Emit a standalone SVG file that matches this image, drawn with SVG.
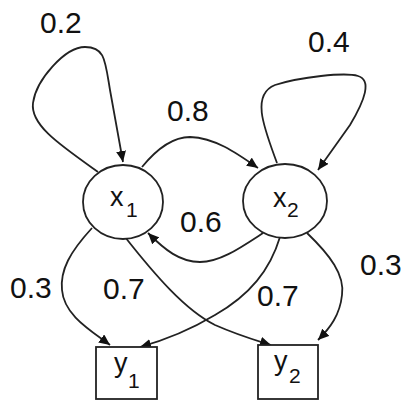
<svg xmlns="http://www.w3.org/2000/svg" width="409" height="403" viewBox="0 0 409 403">
<defs>
<marker id="ah" markerUnits="userSpaceOnUse" markerWidth="12" markerHeight="10" refX="11" refY="5" orient="auto">
<path d="M0,0 L11,5 L0,10 Z" fill="#111"/>
</marker>
<style>
.n{fill:#fff;stroke:#222;stroke-width:1.8}
.e{fill:none;stroke:#222;stroke-width:1.8;marker-end:url(#ah)}
.l{font-family:"Liberation Sans",Arial,sans-serif;font-size:30px;fill:#111}
.t{font-family:"Liberation Sans",Arial,sans-serif;font-size:27px;fill:#111}
.s{font-family:"Liberation Sans",Arial,sans-serif;font-size:21px;fill:#111}
</style>
</defs>
<rect width="409" height="403" fill="#fff"/>
<g id="connectors">
<path class="e" d="M98,172 C60,145 30,125 33,103 C36,80 65,47 85,47 C105,47 105,60 110,90 L123,162"/>
<path class="e" d="M142,167 C160,145 175,137 190,137 C215,138 235,152 258,168"/>
<path class="e" d="M277,163 C265,130 250,95 275,85 C300,77 345,72 358,76 C372,80 365,100 350,125 L318,170"/>
<path class="e" d="M263,233 C240,248 220,262 200,262 C180,262 165,250 148,233"/>
<path class="e" d="M92,228 C70,252 60,270 62,290 C64,315 90,330 110,345"/>
<path class="e" d="M125,237 C155,275 185,310 215,325 C240,336 255,340 271,345"/>
<path class="e" d="M280,237 C270,270 250,295 215,315 C190,330 165,340 140,347"/>
<path class="e" d="M307,233 C330,255 345,275 342,295 C340,315 330,328 318,340"/>
</g>
<g id="labels">
<text class="l" x="40" y="33">0.2</text>
<text class="l" x="167" y="121">0.8</text>
<text class="l" x="308" y="52">0.4</text>
<text class="l" x="180" y="232">0.6</text>
<text class="l" x="10" y="298">0.3</text>
<text class="l" x="103" y="299">0.7</text>
<text class="l" x="257" y="306">0.7</text>
<text class="l" x="360" y="275">0.3</text>
</g>
<g id="x1">
<ellipse class="n" cx="123" cy="202" rx="40" ry="37"/>
<text class="t" x="110" y="206">x</text><text class="s" x="126" y="217">1</text>
</g>
<g id="x2">
<ellipse class="n" cx="285" cy="201" rx="42" ry="37"/>
<text class="t" x="273" y="207">x</text><text class="s" x="287" y="217">2</text>
</g>
<g id="y1">
<rect class="n" x="96" y="347" width="61" height="52"/>
<text class="t" x="114" y="372">y</text><text class="s" x="128" y="388">1</text>
</g>
<g id="y2">
<rect class="n" x="258" y="345" width="60" height="54"/>
<text class="t" x="274" y="370">y</text><text class="s" x="289" y="383">2</text>
</g>
</svg>
